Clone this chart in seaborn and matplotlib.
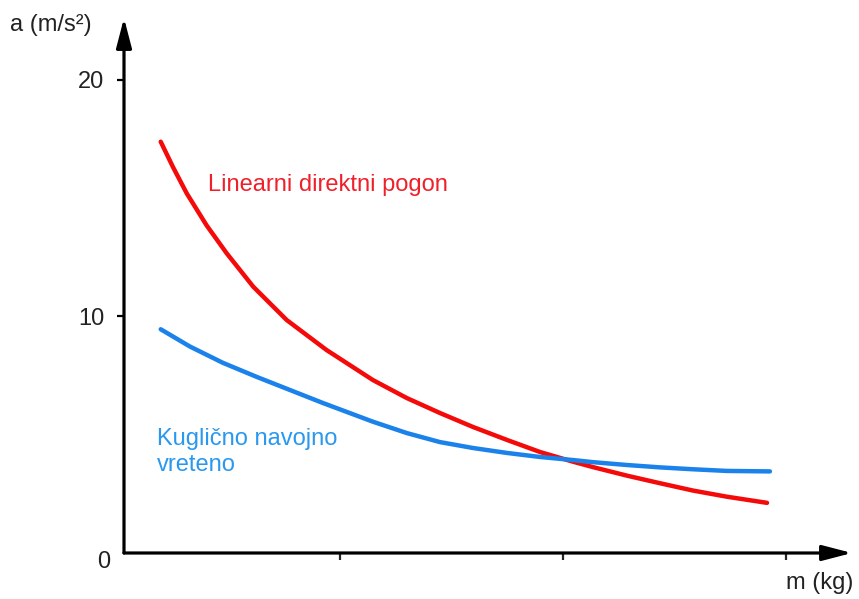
import matplotlib
matplotlib.use("Agg")
import matplotlib.pyplot as plt
import seaborn as sns
import pandas as pd

# ---- data ----
red_x = [0.196, 0.252, 0.313, 0.402, 0.492, 0.611, 0.761, 0.940, 1.148, 1.300,
         1.448, 1.596, 1.749, 1.897, 2.045, 2.135, 2.287, 2.435, 2.583, 2.735, 2.915]
red_y = [17.39, 16.30, 15.20, 13.85, 12.67, 11.26, 9.85, 8.58, 7.31, 6.55,
         5.92, 5.33, 4.78, 4.27, 3.86, 3.63, 3.27, 2.95, 2.64, 2.38, 2.12]
blue_x = [0.196, 0.327, 0.475, 0.628, 0.776, 0.924, 1.148, 1.300, 1.448,
          1.596, 1.749, 1.897, 2.045, 2.135, 2.287, 2.435, 2.583, 2.735, 2.928]
blue_y = [9.46, 8.73, 8.04, 7.44, 6.89, 6.34, 5.55, 5.07, 4.69,
          4.44, 4.23, 4.06, 3.93, 3.84, 3.72, 3.62, 3.54, 3.47, 3.45]
series_names = ["Linearni direktni pogon", "Kuglično navojno\nvreteno"]
y_ticks = [10, 20]
y_tick_labels = ["10", "20"]
x_ticks = [1, 2, 3]

sns.set_style("white")
plt.rcParams['font.family'] = ['Liberation Sans', 'DejaVu Sans']

df = pd.concat([
    pd.DataFrame({"m": red_x, "a": red_y, "s": series_names[0]}),
    pd.DataFrame({"m": blue_x, "a": blue_y, "s": series_names[1]}),
])

W, H = 859, 599
fig = plt.figure(figsize=(W / 100, H / 100), dpi=100)
ax = fig.add_axes([124 / W, 46 / H, (852 - 124) / W, (581 - 46) / H])

red_c = "#f50a0a"
blue_c = "#1a82ea"
sns.lineplot(data=df, x="m", y="a", hue="s", palette=[red_c, blue_c],
             linewidth=3.2, ax=ax, legend=False, sort=False)
for ln in ax.get_lines():
    ln.set_solid_joinstyle("round")
    ln.set_solid_capstyle("round")

ax.set_xlim(0.0314, 3.296)
ax.set_ylim(0, 22.62)

for s in ax.spines.values():
    s.set_visible(False)

# axes with arrows
arrow_kw = dict(arrowstyle="-|>,head_length=1.0,head_width=0.26",
                mutation_scale=18, lw=2.3, color="black",
                shrinkA=0, shrinkB=0)
ax.annotate("", xy=(0, 1), xytext=(0, 0), xycoords="axes fraction",
            textcoords="axes fraction", arrowprops=arrow_kw, annotation_clip=False)
ax.annotate("", xy=(1, 0), xytext=(0, 0), xycoords="axes fraction",
            textcoords="axes fraction", arrowprops=arrow_kw, annotation_clip=False)

ax.set_yticks(y_ticks)
ax.set_yticklabels(y_tick_labels)
ax.set_xticks(x_ticks)
ax.set_xticklabels([])
ax.tick_params(axis="y", direction="out", length=5, width=1.6, pad=9,
               labelsize=17, colors="black", left=True)
ax.tick_params(axis="x", direction="out", length=5, width=1.6, bottom=True)
for lab in ax.get_yticklabels():
    lab.set_color("#222222")

ax.set_xlabel("")
ax.set_ylabel("")

# zero label
fig.text(110 / W, (H - 562) / H, "0", ha="right", va="center", fontsize=17, color="#222222")
# axis titles
fig.text(10 / W, (H - 25) / H, "a (m/s²)", ha="left", va="center", fontsize=17, color="#222222")
fig.text(853 / W, (H - 583) / H, "m (kg)", ha="right", va="center", fontsize=17, color="#222222")

# series labels
ax.text(0.408, 15.56, series_names[0], color="#f0202a", fontsize=17, ha="left", va="center")
ax.text(0.179, 4.27, series_names[1], color="#2a98ee", fontsize=17, ha="left", va="center",
        linespacing=1.25)

fig.savefig("out.png", dpi=100)
